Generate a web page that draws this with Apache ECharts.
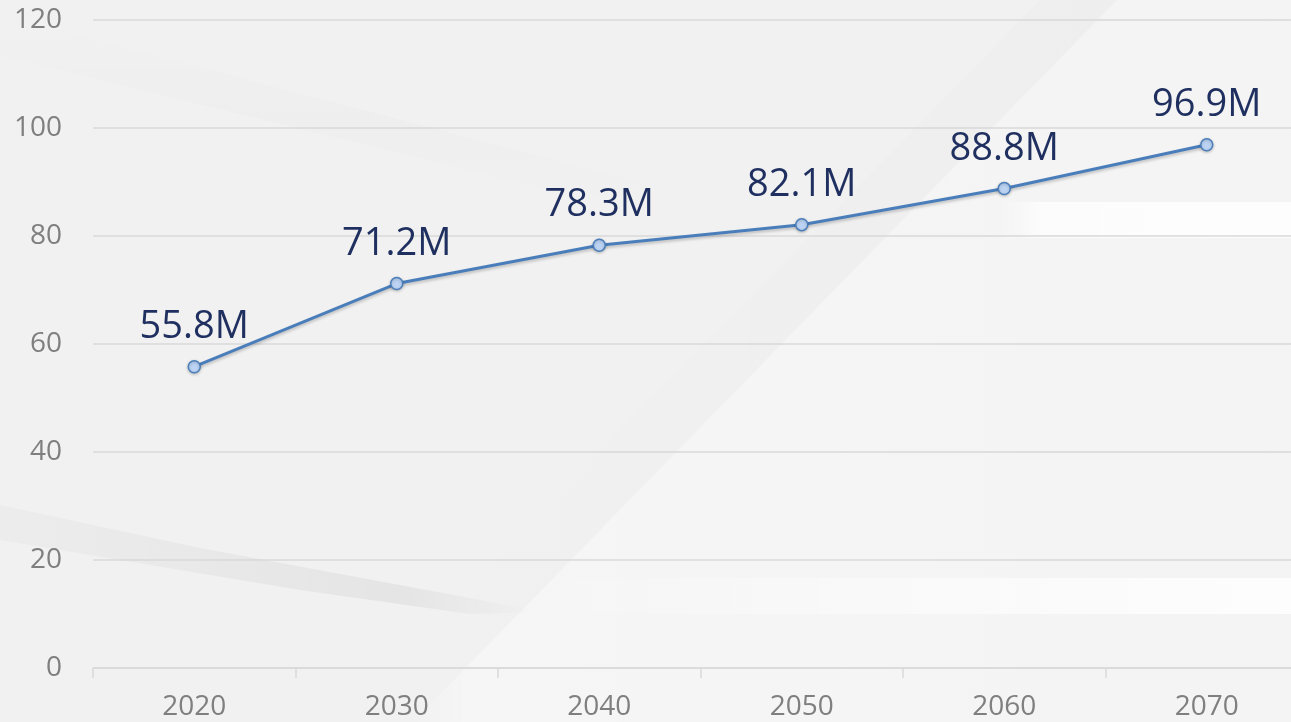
<!DOCTYPE html>
<html>
<head>
<meta charset="utf-8">
<script src="https://cdn.jsdelivr.net/npm/echarts@6/dist/echarts.min.js"></script>
<style>
html,body{margin:0;padding:0;background:#f1f1f1;overflow:hidden;}
#main{width:1291px;height:722px;}
</style>
</head>
<body>
<div id="main"></div>
<script>
const years = ['2020', '2030', '2040', '2050', '2060', '2070'];
const population = [55.8, 71.2, 78.3, 82.1, 88.8, 96.9];
const yTicks = { min: 0, max: 120, interval: 20 };

const chart = echarts.init(document.getElementById('main'), null, { renderer: 'canvas' });

const G = echarts.graphic;
const bgShapes = [
  // lighter area right of the big diagonal
  { type: 'polygon', shape: { points: [[1117, 0], [1291, 0], [1291, 722], [413, 722]] },
    style: { fill: new G.LinearGradient(0, 0, 1, 0, [
      { offset: 0, color: 'rgba(255,255,255,0.0)' },
      { offset: 0.06, color: 'rgba(255,255,255,0.35)' },
      { offset: 1, color: 'rgba(255,255,255,0.2)' }]) }, z: -10, silent: true },
  // faint shade left of the diagonal
  { type: 'polygon', shape: { points: [[1040, 0], [1117, 0], [413, 722], [336, 722]] },
    style: { fill: new G.LinearGradient(0, 0, 1, 0, [
      { offset: 0, color: 'rgba(0,0,0,0.0)' },
      { offset: 1, color: 'rgba(0,0,0,0.012)' }]) }, z: -10, silent: true },
  // top-left soft band
  { type: 'polygon', shape: { points: [[0, 15], [0, 55], [650, 215], [650, 185]] },
    style: { fill: new G.LinearGradient(0, 0, 0, 1, [
      { offset: 0, color: 'rgba(0,0,0,0.0)' },
      { offset: 0.5, color: 'rgba(0,0,0,0.012)' },
      { offset: 1, color: 'rgba(0,0,0,0.0)' }]) }, z: -10, silent: true },
  // bottom-left darker streak (tapering)
  { type: 'polygon', shape: { points: [[0, 505], [0, 540], [300, 590], [470, 614], [540, 612], [470, 598], [200, 548]] },
    style: { fill: new G.LinearGradient(0, 0, 1, 0, [
      { offset: 0, color: 'rgba(0,0,0,0.02)' },
      { offset: 0.75, color: 'rgba(0,0,0,0.05)' },
      { offset: 1, color: 'rgba(0,0,0,0.0)' }]) }, z: -10, silent: true },
  // bottom light streak
  { type: 'rect', shape: { x: 520, y: 578, width: 771, height: 36 },
    style: { fill: new G.LinearGradient(0, 0, 1, 0, [
      { offset: 0, color: 'rgba(255,255,255,0.0)' },
      { offset: 0.5, color: 'rgba(255,255,255,0.45)' },
      { offset: 1, color: 'rgba(255,255,255,0.85)' }]) }, z: -10, silent: true },
  // right white band
  { type: 'rect', shape: { x: 1000, y: 202, width: 291, height: 36 },
    style: { fill: new G.LinearGradient(0, 0, 1, 0, [
      { offset: 0, color: 'rgba(255,255,255,0.0)' },
      { offset: 0.15, color: 'rgba(255,255,255,0.75)' },
      { offset: 1, color: 'rgba(255,255,255,0.85)' }]) }, z: -10, silent: true }
];

const option = {
  backgroundColor: '#f1f1f1',
  animation: false,
  graphic: bgShapes,
  grid: { left: 93, right: -17, top: 20, bottom: 54, containLabel: false, outerBoundsMode: 'none' },
  xAxis: {
    type: 'category',
    data: years,
    boundaryGap: true,
    axisLine: { show: true, lineStyle: { color: '#d9d9d9', width: 1.5 } },
    axisTick: { show: true, length: 10, alignWithLabel: false, lineStyle: { color: '#d9d9d9', width: 1.5 } },
    axisLabel: { color: '#7f7f7f', fontFamily: 'Open Sans', fontSize: 28, margin: 25 },
    splitLine: { show: false }
  },
  yAxis: {
    type: 'value',
    min: yTicks.min,
    max: yTicks.max,
    interval: yTicks.interval,
    axisLine: { show: false },
    axisTick: { show: false },
    axisLabel: { color: '#7f7f7f', fontFamily: 'Open Sans', fontSize: 28, margin: 31 },
    splitLine: { show: true, lineStyle: { color: '#d9d9d9', width: 1.5 } }
  },
  series: [{
    type: 'line',
    data: population,
    symbol: 'circle',
    symbolSize: 12,
    lineStyle: { color: '#4a7ebb', width: 3, shadowColor: 'rgba(0,0,0,0.22)', shadowBlur: 3, shadowOffsetY: 2 },
    itemStyle: { color: '#bcd3f4', borderColor: '#4a7ebb', borderWidth: 1.5, shadowColor: 'rgba(0,0,0,0.22)', shadowBlur: 3, shadowOffsetY: 1 },
    label: {
      show: true,
      position: 'top',
      distance: 14,
      formatter: '{c}M',
      color: '#1f2f5f',
      fontFamily: 'Open Sans',
      fontSize: 38
    }
  }]
};

chart.setOption(option);
</script>
</body>
</html>
